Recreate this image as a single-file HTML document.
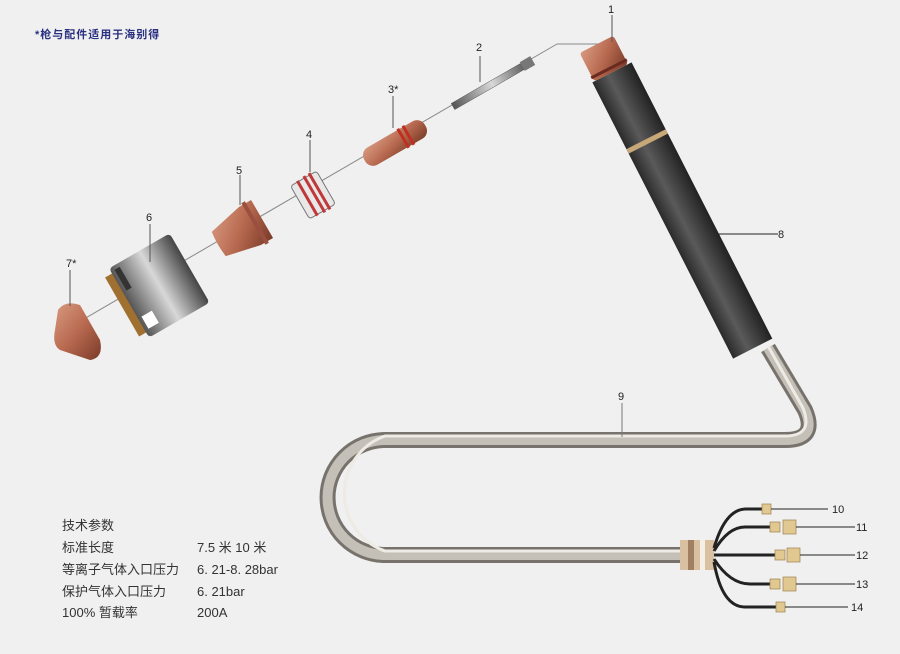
<!DOCTYPE html>
<html><head><meta charset="utf-8"><style>
html,body{margin:0;padding:0;background:#f0f0f0;}
svg{display:block}
text{font-family:"Liberation Sans","Noto Sans CJK SC",sans-serif;}
</style></head><body>
<svg width="900" height="654" viewBox="0 0 900 654" xmlns="http://www.w3.org/2000/svg">
<defs>
<linearGradient id="cu" x1="0" y1="0" x2="1" y2="1"><stop offset="0" stop-color="#d89a80"/><stop offset="0.5" stop-color="#b86a50"/><stop offset="1" stop-color="#7a3a28"/></linearGradient>
<linearGradient id="hd" x1="0" y1="0" x2="1" y2="0"><stop offset="0" stop-color="#2a2a2a"/><stop offset="0.4" stop-color="#5a5a5a"/><stop offset="1" stop-color="#222"/></linearGradient>
<linearGradient id="sh" x1="0" y1="0" x2="1" y2="0"><stop offset="0" stop-color="#555"/><stop offset="0.5" stop-color="#d8d8d8"/><stop offset="1" stop-color="#444"/></linearGradient>
</defs>
<rect width="900" height="654" fill="#f0f0f0"/>
<text x="35" y="38" font-size="11" font-weight="bold" fill="#2a3080" letter-spacing="1">*枪与配件适用于海别得</text>

<line x1="65" y1="330" x2="557" y2="44" stroke="#888" stroke-width="1"/>
<line x1="557" y1="44" x2="600" y2="44" stroke="#888" stroke-width="1"/>

<!-- tube cable -->
<path d="M768 348 L805 410 Q818 440 785 440 L385 440 A57.5 57.5 0 0 0 385 555 L690 555" fill="none" stroke="#77736c" stroke-width="16"/>
<path d="M768 348 L805 410 Q818 440 785 440 L385 440 A57.5 57.5 0 0 0 385 555 L690 555" fill="none" stroke="#c4c0b8" stroke-width="10"/>
<path d="M768 346 L803 408 Q814 436 785 436 L385 436 A61 61 0 0 0 385 551 L690 551" fill="none" stroke="#eeeae4" stroke-width="3"/>

<!-- handle -->
<g transform="translate(602,55) rotate(-27)">
<rect x="-21" y="20" width="44" height="310" fill="url(#hd)"/>
<rect x="-21" y="95" width="44" height="5" fill="#c8a878"/>
<rect x="-19" y="-12" width="38" height="32" rx="3" fill="url(#cu)"/>
<rect x="-20" y="14" width="40" height="3" fill="#6a2a20"/>
</g>
<line x1="612" y1="15" x2="612" y2="42" stroke="#555"/>
<text x="608" y="13" font-size="11" fill="#222">1</text>

<!-- part 2 rod -->
<g transform="translate(492,84) rotate(-30)">
<rect x="-45" y="-3.5" width="90" height="7" fill="url(#sh)" stroke="#555" stroke-width="0.5"/>
<rect x="35" y="-5" width="12" height="10" fill="#777"/>
</g>
<line x1="480" y1="56" x2="480" y2="82" stroke="#555"/>
<text x="476" y="51" font-size="11" fill="#222">2</text>

<!-- part 3 -->
<g transform="translate(395,143) rotate(-30)">
<rect x="-35" y="-10" width="70" height="20" rx="9" fill="url(#cu)"/>
<rect x="8" y="-11" width="3" height="22" fill="#c03020"/>
<rect x="14" y="-11" width="3" height="22" fill="#c03020"/>
</g>
<line x1="393" y1="96" x2="393" y2="128" stroke="#555"/>
<text x="388" y="93" font-size="11" fill="#222">3*</text>

<!-- part 4 -->
<g transform="translate(313,195) rotate(-30)">
<rect x="-15" y="-19" width="30" height="38" rx="3" fill="#e8e8e8" stroke="#777"/>
<rect x="-8" y="-20" width="3" height="40" fill="#c03838"/>
<rect x="0" y="-21" width="3" height="42" fill="#c03838"/>
<rect x="6" y="-21" width="3" height="42" fill="#c03838"/>
</g>
<line x1="310" y1="140" x2="310" y2="172" stroke="#555"/>
<text x="306" y="138" font-size="11" fill="#222">4</text>

<!-- part 5 -->
<g transform="translate(243,230) rotate(-30)">
<path d="M-28 -14 Q-30 0 -28 14 L8 22 L22 22 L22 -22 L8 -22 Z" fill="url(#cu)"/>
<rect x="12" y="-24" width="4" height="48" fill="#9a5040"/>
</g>
<line x1="240" y1="175" x2="240" y2="205" stroke="#555"/>
<text x="236" y="174" font-size="11" fill="#222">5</text>

<!-- part 6 -->
<g transform="translate(155,288) rotate(-30)">
<rect x="-38" y="-34" width="10" height="68" fill="#a07030"/>
<rect x="-30" y="-40" width="70" height="80" rx="4" fill="url(#sh)"/>
<rect x="-26" y="18" width="12" height="14" fill="#fff"/>
<rect x="-26" y="-36" width="6" height="24" fill="#333"/>
</g>
<line x1="150" y1="224" x2="150" y2="262" stroke="#555"/>
<text x="146" y="221" font-size="11" fill="#222">6</text>

<!-- part 7 -->
<path d="M58 310 Q65 300 80 305 L100 340 Q104 358 90 360 L60 350 Q52 345 55 330 Z" fill="url(#cu)"/>
<line x1="70" y1="270" x2="70" y2="306" stroke="#555"/>
<text x="66" y="267" font-size="11" fill="#222">7*</text>

<line x1="718" y1="234" x2="778" y2="234" stroke="#222"/>
<text x="778" y="238" font-size="11" fill="#222">8</text>
<line x1="622" y1="403" x2="622" y2="437" stroke="#777"/>
<text x="618" y="400" font-size="11" fill="#222">9</text>

<!-- collar -->
<rect x="680" y="540" width="34" height="30" fill="#d8c0a0"/>
<rect x="688" y="540" width="6" height="30" fill="#a08060"/>
<rect x="700" y="540" width="5" height="30" fill="#f4f0e8"/>

<g fill="none" stroke="#222" stroke-width="3">
<path d="M714 548 Q725 510 745 509 L764 509"/>
<path d="M714 551 Q728 527 745 527 L770 527"/>
<path d="M714 555 L775 555"/>
<path d="M714 559 Q730 584 750 584 L770 584"/>
<path d="M714 562 Q722 607 745 607 L776 607"/>
</g>
<g fill="#e0c890" stroke="#9a8050" stroke-width="0.7">
<rect x="762" y="504" width="9" height="10"/>
<rect x="770" y="522" width="10" height="10"/><rect x="783" y="520" width="13" height="14"/>
<rect x="775" y="550" width="10" height="10"/><rect x="787" y="548" width="13" height="14"/>
<rect x="770" y="579" width="10" height="10"/><rect x="783" y="577" width="13" height="14"/>
<rect x="776" y="602" width="9" height="10"/>
</g>
<g stroke="#222" stroke-width="1">
<line x1="771" y1="509" x2="828" y2="509"/>
<line x1="796" y1="527" x2="855" y2="527"/>
<line x1="800" y1="555" x2="855" y2="555"/>
<line x1="796" y1="584" x2="855" y2="584"/>
<line x1="785" y1="607" x2="848" y2="607"/>
</g>
<g font-size="11" fill="#222">
<text x="832" y="513">10</text>
<text x="856" y="531">11</text>
<text x="856" y="559">12</text>
<text x="856" y="588">13</text>
<text x="851" y="611">14</text>
</g>

<g font-size="13" fill="#333">
<text x="62" y="530">技术参数</text>
<text x="62" y="552">标准长度</text><text x="197" y="552">7.5 米 10 米</text>
<text x="62" y="574">等离子气体入口压力</text><text x="197" y="574">6. 21-8. 28bar</text>
<text x="62" y="596">保护气体入口压力</text><text x="197" y="596">6. 21bar</text>
<text x="62" y="617">100% 暂载率</text><text x="197" y="617">200A</text>
</g>
</svg>
</body></html>
